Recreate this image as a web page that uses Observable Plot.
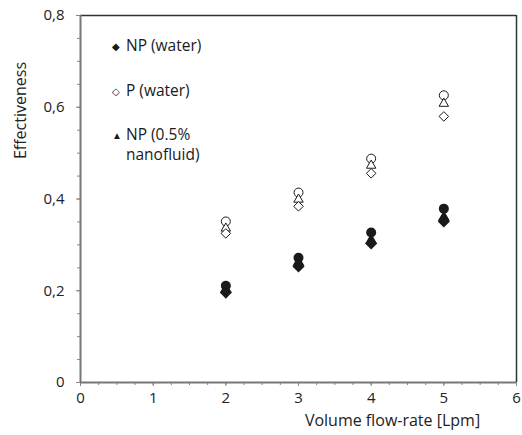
<!DOCTYPE html>
<html>
<head>
<meta charset="utf-8">
<script src="https://cdn.jsdelivr.net/npm/d3@7"></script>
<script src="https://cdn.jsdelivr.net/npm/@observablehq/plot@0.6"></script>
<style>
  html, body { margin: 0; padding: 0; background: #fff; }
  #wrap { position: relative; width: 522px; height: 435px; font-family: "Open Sans", "Noto Sans", sans-serif; }
  #legend { position: absolute; left: 112px; top: 35px; font-size: 15.5px; color: #1a1a1a; line-height: 20px; }
  #legend .row { display: flex; align-items: flex-start; }
  #legend .sym { width: 14px; display: inline-block; font-size: 10px; line-height: 22px; }
</style>
</head>
<body>
<div id="wrap"></div>
<script>
const flow = [2, 3, 4, 5];
const npWater = [0.196, 0.253, 0.303, 0.351];
const pWater = [0.325, 0.384, 0.456, 0.580];
const npNano05 = [0.203, 0.262, 0.310, 0.360];
const pNano05 = [0.336, 0.399, 0.473, 0.608];
const npNano1 = [0.211, 0.272, 0.327, 0.379];
const pNano1 = [0.351, 0.414, 0.488, 0.626];
const xTicks = [0, 1, 2, 3, 4, 5, 6];
const yTicks = [0, 0.2, 0.4, 0.6, 0.8];
const legendLabels = ["NP (water)", "P (water)", "NP (0.5%\nnanofluid)"];

const toRows = (vals) => flow.map((x, i) => ({x, y: vals[i]}));
const fmtY = d => d === 0 ? "0" : d.toFixed(1).replace(".", ",");
const dark = "#1a1a1a";

const chart = Plot.plot({
  width: 522,
  height: 435,
  marginLeft: 80,
  marginRight: 6,
  marginTop: 15,
  marginBottom: 53,
  style: {fontFamily: "'Open Sans', 'Noto Sans', sans-serif", fontSize: "14px", color: "#222", background: "#fff"},
  x: {domain: [0, 6], label: null},
  y: {domain: [0, 0.8], label: null},
  marks: [
    Plot.axisX({ticks: d3.range(0, 6.001, 0.25), tickSize: 3, text: null, stroke: "#888", label: null}),
    Plot.axisX({ticks: xTicks, tickSize: 4, tickFormat: d => String(d), tickPadding: 6, fontSize: 15, stroke: "#888", label: null}),
    Plot.axisY({ticks: d3.range(0, 0.801, 0.05), tickSize: 3, text: null, stroke: "#888", label: null}),
    Plot.axisY({ticks: yTicks, tickSize: 4, tickFormat: fmtY, tickPadding: 12, fontSize: 15, stroke: "#888", label: null}),
    Plot.text(["Volume flow-rate [Lpm]"], {frameAnchor: "bottom", lineAnchor: "middle", dx: 94, dy: 38, fontSize: 16, fill: "#222"}),
    Plot.text(["Effectiveness"], {frameAnchor: "top-left", rotate: -90, textAnchor: "middle", lineAnchor: "middle", dx: -60, dy: 95, fontSize: 16, fill: "#222"}),
    Plot.ruleY([0.8], {stroke: "#333", strokeWidth: 1.5}),
    Plot.ruleX([6], {stroke: "#333", strokeWidth: 1.5}),
    Plot.ruleX([0], {stroke: "#777", strokeWidth: 2}),
    Plot.ruleY([0], {stroke: "#777", strokeWidth: 2}),
    Plot.dot(toRows(pNano1), {x: "x", y: "y", symbol: "circle", r: 4.5, stroke: dark, fill: "white", strokeWidth: 1}),
    Plot.dot(toRows(pNano05), {x: "x", y: "y", symbol: "triangle2", r: 4.5, stroke: dark, fill: "white", strokeWidth: 1}),
    Plot.dot(toRows(pWater), {x: "x", y: "y", symbol: "diamond2", r: 4.3, stroke: dark, fill: "white", strokeWidth: 1}),
    Plot.dot(toRows(npNano1), {x: "x", y: "y", symbol: "circle", r: 5, fill: dark}),
    Plot.dot(toRows(npNano05), {x: "x", y: "y", symbol: "triangle2", r: 4.5, fill: dark, stroke: dark}),
    Plot.dot(toRows(npWater), {x: "x", y: "y", symbol: "diamond2", r: 4.5, fill: dark, stroke: dark})
  ]
});

const wrap = document.getElementById("wrap");
wrap.appendChild(chart);

const legend = document.createElement("div");
legend.id = "legend";
const syms = ["◆", "◇", "▲"];
const gaps = [0, 23, 22];
legendLabels.forEach((lab, i) => {
  const row = document.createElement("div");
  row.className = "row";
  row.style.marginTop = gaps[i] + "px";
  const s = document.createElement("span");
  s.className = "sym";
  s.textContent = syms[i];
  const t = document.createElement("span");
  t.style.whiteSpace = "pre";
  t.textContent = lab;
  row.appendChild(s);
  row.appendChild(t);
  legend.appendChild(row);
});
wrap.appendChild(legend);
</script>
</body>
</html>
